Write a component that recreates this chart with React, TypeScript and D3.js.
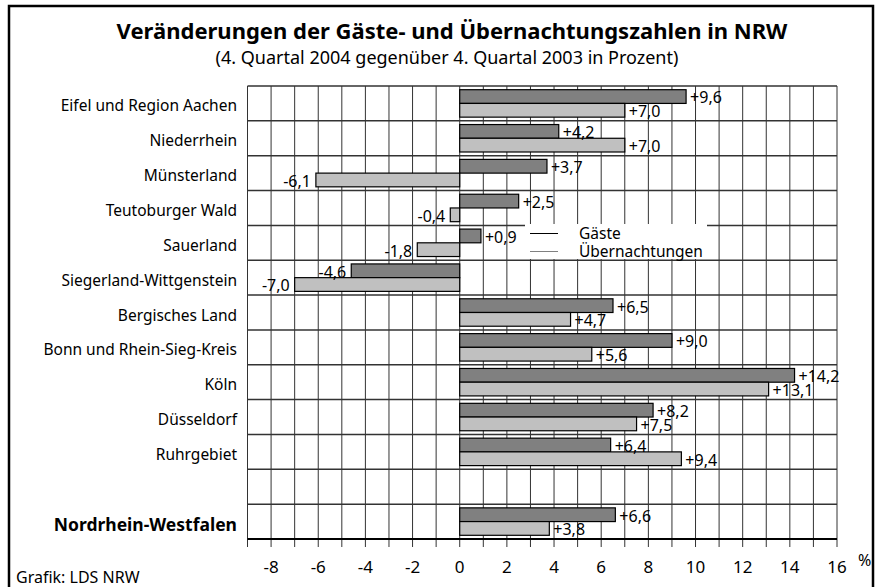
import { useEffect, useRef } from "react";
import * as d3 from "d3";

const regions = [
  "Eifel und Region Aachen",
  "Niederrhein",
  "Münsterland",
  "Teutoburger Wald",
  "Sauerland",
  "Siegerland-Wittgenstein",
  "Bergisches Land",
  "Bonn und Rhein-Sieg-Kreis",
  "Köln",
  "Düsseldorf",
  "Ruhrgebiet",
  "",
  "Nordrhein-Westfalen",
];
const gaeste = [9.6, 4.2, 3.7, 2.5, 0.9, -4.6, 6.5, 9.0, 14.2, 8.2, 6.4, null, 6.6];
const uebernachtungen = [7.0, 7.0, -6.1, -0.4, -1.8, -7.0, 4.7, 5.6, 13.1, 7.5, 9.4, null, 3.8];
const tickValues = [-8, -6, -4, -2, 0, 2, 4, 6, 8, 10, 12, 14, 16];
const seriesNames = ["Gäste", "Übernachtungen"];

const W = 880;
const H = 587;
const FONT = "'Noto Sans', 'Open Sans', sans-serif";

export default function App() {
  const svgRef = useRef(null);

  useEffect(() => {
    const svg = d3.select(svgRef.current);
    svg.selectAll("*").remove();

    const left = 247.5, right = 837, top = 86, bottom = 539;

    const x = d3.scaleLinear().domain([-9, 16]).range([left, right]);
    const y = d3.scaleBand().domain(regions.map((_, i) => String(i))).range([top, bottom]);
    const sub = d3.scaleBand().domain(["g", "u"]).range([0, y.bandwidth()]).paddingOuter(0.27);

    // outer frame
    svg.append("rect")
      .attr("x", 9).attr("y", 6).attr("width", 864).attr("height", 640)
      .attr("fill", "none").attr("stroke", "#000").attr("stroke-width", 2.5);

    // title
    svg.append("text")
      .attr("x", 452).attr("y", 39)
      .attr("text-anchor", "middle")
      .attr("font-family", FONT).attr("font-weight", "bold").attr("font-size", 22)
      .text("Veränderungen der Gäste- und Übernachtungszahlen in NRW");
    svg.append("text")
      .attr("x", 447).attr("y", 64)
      .attr("text-anchor", "middle")
      .attr("font-family", FONT).attr("font-size", 18)
      .text("(4. Quartal 2004 gegenüber 4. Quartal 2003 in Prozent)");

    const g = svg.append("g");

    // vertical grid + ticks
    g.selectAll("line.vg")
      .data(d3.range(-9, 17))
      .join("line")
      .attr("class", "vg")
      .attr("x1", d => x(d)).attr("x2", d => x(d))
      .attr("y1", top).attr("y2", bottom + 8)
      .attr("stroke", "#333").attr("stroke-width", 1);

    // horizontal row lines
    const bounds = regions.map((_, i) => y(String(i)));
    g.selectAll("line.hg")
      .data(bounds)
      .join("line")
      .attr("class", "hg")
      .attr("x1", left).attr("x2", right)
      .attr("y1", d => d).attr("y2", d => d)
      .attr("stroke", "#333").attr("stroke-width", 1.5);

    g.append("line")
      .attr("x1", left).attr("x2", right)
      .attr("y1", bottom).attr("y2", bottom)
      .attr("stroke", "#000").attr("stroke-width", 2);

    // legend background
    g.append("rect")
      .attr("x", 525).attr("y", 224).attr("width", 182).attr("height", 35)
      .attr("fill", "#fff");

    // bars
    const rows = regions.map((name, i) => ({ name, i, g: gaeste[i], u: uebernachtungen[i] }));
    const barData = rows.flatMap(r => [
      { key: "g", i: r.i, v: r.g },
      { key: "u", i: r.i, v: r.u },
    ]).filter(d => d.v !== null);

    g.selectAll("rect.bar")
      .data(barData)
      .join("rect")
      .attr("class", "bar")
      .attr("x", d => x(Math.min(0, d.v)))
      .attr("width", d => Math.abs(x(d.v) - x(0)))
      .attr("y", d => y(String(d.i)) + sub(d.key))
      .attr("height", sub.bandwidth())
      .attr("fill", d => d.key === "g" ? "#808080" : "#c0c0c0")
      .attr("stroke", "#000").attr("stroke-width", 1.2);

    const fmt = (v) => (v > 0 ? "+" : "-") + d3.format(".1f")(Math.abs(v)).replace(".", ",");

    g.selectAll("text.val")
      .data(barData)
      .join("text")
      .attr("class", "val")
      .attr("x", d => d.v >= 0 ? x(d.v) + 4 : x(d.v) - 5)
      .attr("y", d => y(String(d.i)) + sub(d.key) + sub.bandwidth())
      .attr("text-anchor", d => d.v >= 0 ? "start" : "end")
      .attr("font-family", FONT).attr("font-size", 16)
      .text(d => fmt(d.v));

    // category labels
    const isTotal = (i) => i === regions.length - 1;
    g.selectAll("text.cat")
      .data(rows)
      .join("text")
      .attr("class", "cat")
      .attr("x", 237)
      .attr("y", d => y(String(d.i)) + y.bandwidth() / 2 + (isTotal(d.i) ? 9.5 : 8))
      .attr("text-anchor", "end")
      .attr("font-family", FONT)
      .attr("font-size", d => isTotal(d.i) ? 17.5 : 15.5)
      .attr("font-weight", d => isTotal(d.i) ? "bold" : "normal")
      .text(d => d.name);

    // tick labels
    g.selectAll("text.tick")
      .data(tickValues)
      .join("text")
      .attr("class", "tick")
      .attr("x", d => x(d)).attr("y", 573)
      .attr("text-anchor", "middle")
      .attr("font-family", FONT).attr("font-size", 17)
      .text(d => d);
    g.append("text")
      .attr("x", 858).attr("y", 566)
      .attr("font-family", FONT).attr("font-size", 16)
      .text("%");

    // legend
    const legendRows = [
      { name: seriesNames[0], color: "#000", yy: 233.5 },
      { name: seriesNames[1], color: "#808080", yy: 251.5 },
    ];
    const lg = g.selectAll("g.leg").data(legendRows).join("g").attr("class", "leg");
    lg.append("line")
      .attr("x1", 530).attr("x2", 558)
      .attr("y1", d => d.yy).attr("y2", d => d.yy)
      .attr("stroke", d => d.color).attr("stroke-width", 1);
    lg.append("text")
      .attr("x", 579).attr("y", d => d.yy + 5)
      .attr("font-family", FONT).attr("font-size", 15.5)
      .text(d => d.name);

    svg.append("text")
      .attr("x", 16).attr("y", 583)
      .attr("font-family", FONT).attr("font-size", 16)
      .text("Grafik: LDS NRW");
  }, []);

  return (
    <svg
      ref={svgRef}
      width={W}
      height={H}
      style={{ position: "absolute", left: 0, top: 0, display: "block", background: "#fff" }}
    />
  );
}
